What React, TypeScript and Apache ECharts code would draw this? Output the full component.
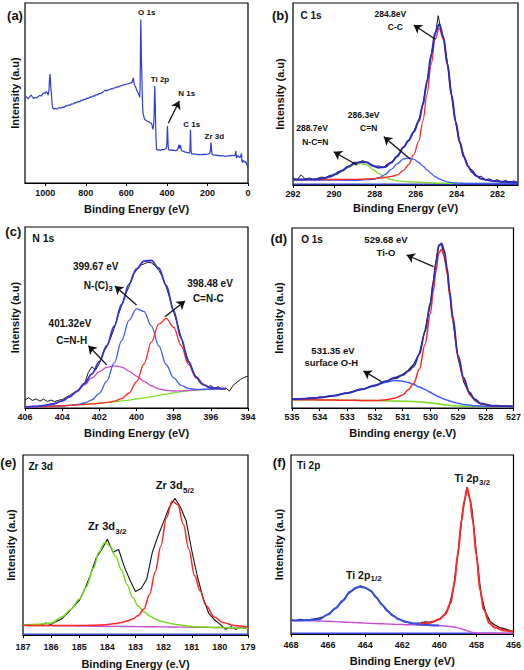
import React, { useEffect, useRef } from "react";
import * as echarts from "echarts";

const FONT = '"Liberation Sans", Arial, Helvetica, sans-serif';

// ---------- (a) survey spectrum: [binding energy, intensity %] ----------
const surveyPoints: [number, number][] = [
  [1100,47.4],[1092,47.9],[1085,46.8],[1078,47.6],[1070,48.9],[1064,47.9],[1057,46.9],[1050,47.5],[1043,47.2],[1035,48.1],
  [1027,48.6],[1020,48.3],[1013,49.4],[1006,50.1],[1000,49.8],[995,50.8],[990,50.2],[986,48.8],[982,51.0],[979,57.5],
  [977,60.5],[975,58.0],[973,53.5],[970,50.0],[967,45.0],[964,41.8],[958,41.0],[951,41.6],[944,40.9],[937,41.5],
  [930,41.9],[922,41.6],[915,42.3],[908,42.0],[900,42.9],[892,42.7],[885,43.4],[877,43.2],[870,44.0],[862,43.9],
  [855,44.6],[847,44.5],[840,45.3],[832,45.1],[825,45.9],[817,45.8],[810,46.5],[802,46.4],[795,47.1],[787,47.0],
  [780,47.8],[772,47.7],[765,48.4],[757,48.3],[750,49.0],[742,48.9],[735,49.7],[727,49.6],[720,50.3],[712,50.9],
  [705,51.6],[697,51.1],[690,51.8],[682,51.9],[675,52.4],[667,52.3],[660,52.9],[652,53.0],[645,53.4],[637,53.4],
  [630,54.0],[622,54.1],[615,54.5],[607,54.6],[600,55.0],[592,55.1],[585,55.4],[578,55.6],[572,55.9],[568,57.6],
  [565,58.3],[562,55.0],[558,54.0],[553,53.0],[548,51.2],[543,50.1],[538,49.0],[534,47.6],[532,55.0],[530,80.0],
  [529,90.8],[528,86.0],[526,70.0],[524,62.0],[522,52.0],[520,43.0],[518,38.9],[515,37.5],[512,36.2],[509,35.2],
  [505,35.0],[500,34.5],[495,34.3],[490,33.9],[485,33.8],[480,33.5],[476,33.1],[472,31.5],[469,29.8],[467,30.0],
  [465,33.0],[463,38.0],[461,50.0],[460,53.9],[459,50.0],[457,42.0],[456,35.0],[454,26.0],[452,19.5],[450,18.4],
  [445,18.6],[440,18.2],[435,18.4],[430,18.1],[425,18.7],[419,18.5],[413,18.7],[407,19.0],[402,19.4],[400,22.0],
  [398,30.0],[397,31.7],[396,28.0],[394,21.0],[392,18.6],[386,18.2],[380,18.4],[374,18.1],[368,18.3],[360,18.0],
  [353,18.1],[347,18.4],[343,20.5],[340,21.2],[338,19.2],[335,19.6],[333,21.0],[331,19.5],[328,18.2],[324,17.8],
  [318,17.6],[312,17.2],[305,17.1],[298,16.9],[290,16.6],[287,17.2],[285,24.0],[284,29.5],[283,27.0],[281,18.5],
  [279,16.3],[272,16.2],[265,16.0],[258,16.1],[250,15.8],[243,15.9],[236,15.7],[229,15.9],[222,15.8],[215,16.0],
  [208,15.8],[200,16.0],[193,16.2],[188,16.5],[185,19.0],[183,22.5],[181,20.5],[179,17.0],[176,15.8],[170,15.6],
  [163,15.4],[156,15.5],[149,15.2],[142,15.3],[135,15.1],[128,15.2],[121,15.0],[114,14.9],[107,14.8],[100,15.0],
  [93,15.2],[85,15.1],[78,15.4],[72,15.2],[66,15.1],[62,16.5],[60,17.8],[58,15.0],[56,13.8],[53,15.2],
  [49,15.0],[45,14.6],[41,14.2],[37,14.5],[34,16.0],[32,16.4],[30,12.0],[27,11.4],[24,12.6],[20,12.0],
  [16,11.5],[12,11.9],[9,11.2],[6,11.0],[4,9.6],[2,9.0],[0,8.3],
];
const surveyArrows = [[393, 33.2, 339, 45.6]];

// ---------- (b) C 1s ----------
const c1sEnergy = [292,291.5,291,290.5,290.2,289.9,289.6,289.3,289.0,288.7,288.4,288.1,287.8,287.5,287.2,286.9,286.6,286.35,286.1,285.85,285.65,285.45,285.25,285.05,284.85,284.65,284.45,284.25,284.05,283.85,283.65,283.45,283.25,283.05,282.8,282.5,282.2,281.8,281.4,281.0];
const c1sCC = [3.0,3.02,3.0,3.0,3.03,3.02,3.02,3.05,3.1,3.17,3.3,3.45,3.7,4.1,4.7,5.6,8.0,11.2,16.6,24.1,35.1,49.6,66.0,80.1,86.05,80.0,65.75,49.2,34.6,23.5,15.5,10.5,7.2,5.1,3.5,2.7,2.25,1.85,1.6,1.4];
const c1sCN = [2.8,2.8,2.75,2.7,2.7,2.65,2.6,2.55,2.55,2.63,2.9,3.1,4.0,5.7,8.6,11.7,14.37,14.9,14.17,12.36,10.4,8.3,6.33,4.6,3.33,2.38,1.74,1.32,1.11,1.0,0.9,0.9,0.9,0.9,0.9,0.9,0.9,0.9,0.9,0.9];
const c1sNCN = [2.8,2.82,2.9,3.44,4.3,5.67,7.54,9.57,11.17,11.75,11.07,8.6,6.2,4.3,3.0,2.3,1.95,1.75,1.6,1.5,1.4,1.3,1.2,1.1,1.05,1.0,0.95,0.9,0.9,0.9,0.9,0.9,0.9,0.9,0.9,0.9,0.9,0.9,0.9,0.9];
const c1sEnvelope = [3.0,3.04,3.15,3.74,4.63,6.04,7.96,10.07,11.82,12.65,12.47,10.55,9.5,9.9,12.3,15.8,20.72,24.45,29.17,34.96,44.1,56.6,71.13,83.6,88.33,81.38,66.54,49.62,34.81,23.6,15.5,10.5,7.2,5.1,3.5,2.7,2.25,1.85,1.6,1.4];
const c1sRaw: [number, number][] = [
  [292.0,3.8],[291.8,2.9],[291.6,5.6],[291.4,3.2],[291.2,3.9],[291.0,2.8],[290.8,3.6],[290.6,4.4],[290.4,3.9],[290.2,5.3],
  [290.0,5.4],[289.8,7.4],[289.6,7.6],[289.4,9.9],[289.2,10.6],[289.0,12.6],[288.8,12.2],[288.6,13.5],[288.4,12.3],[288.2,11.6],
  [288.0,10.2],[287.8,10.5],[287.6,9.4],[287.4,11.5],[287.2,12.2],[287.0,14.8],[286.8,17.5],[286.6,20.9],[286.4,23.5],[286.2,27.0],
  [286.0,31.9],[285.8,37.5],[285.6,47.5],[285.4,60.1],[285.2,74.2],[285.0,85.6],[284.9,93.0],[284.8,87.2],[284.6,78.5],[284.4,62.8],
  [284.2,45.0],[284.0,31.6],[283.8,21.5],[283.6,14.8],[283.4,9.3],[283.2,7.9],[283.0,4.6],[282.8,4.8],[282.6,2.9],[282.4,3.4],
  [282.2,2.2],[282.0,3.0],[281.8,1.5],[281.6,2.6],[281.4,1.2],[281.2,2.3],[281.0,1.1],
];
const c1sBottomLine: [number, number][] = [[281, 0.4], [292, 0.4]];
const c1sArrows = [[285.04, 80.1, 286.1, 87.9], [286.26, 14.1, 287.56, 26.5], [288.87, 11.0, 290.01, 18.3]];

// ---------- (c) N 1s ----------
const n1sEnergy = [406,405.5,405,404.5,404,403.6,403.2,402.8,402.4,402.0,401.6,401.2,400.8,400.4,400.0,399.6,399.2,398.8,398.4,398.0,397.6,397.2,396.8,396.4,396.0,395.6,395.2];
const n1sBackground = [0.6,0.7,0.8,1.0,1.2,1.4,1.7,2.0,2.3,2.6,3.0,3.4,3.9,4.4,5.0,5.6,6.3,7.0,7.7,8.4,9.0,9.5,9.9,10.2,10.4,10.6,10.7];
const n1sCNH = [0.65,0.86,1.27,2.2,3.9,6.1,9.1,12.8,16.6,20.1,22.5,23.3,22.6,20.4,17.6,14.7,12.3,10.6,9.7,9.4,9.47,9.7,9.98,10.23,10.4,10.6,10.7];
const n1sNC3 = [0.6,0.7,0.8,1.0,1.2,1.45,1.9,2.75,4.5,8.1,14.8,24.9,37.2,48.5,54.75,53.4,45.4,34.3,23.9,16.6,12.55,10.8,10.3,10.3,10.42,10.6,10.7];
const n1sCNC = [0.6,0.7,0.8,1.0,1.2,1.4,1.7,2.0,2.3,2.62,3.08,3.76,5.2,8.3,14.5,24.3,36.4,46.3,49.5,44.6,34.5,24.1,16.7,12.8,11.2,10.8,10.74];
const n1sEnvelope = [0.65,0.86,1.27,2.2,3.9,6.15,9.3,13.55,18.8,25.6,34.4,45.2,57.2,68.4,76.85,81.2,81.5,77.2,67.7,53.8,38.5,25.6,17.2,12.9,11.2,10.8,10.74];
const n1sRaw: [number, number][] = [
  [406,4.5],[405.8,5.6],[405.6,4.2],[405.4,5.0],[405.2,3.8],[405,4.9],[404.8,3.6],[404.6,4.4],[404.4,3.5],[404.2,4.3],
  [404,4.6],[403.8,5.8],[403.6,7.0],[403.4,8.3],[403.2,9.0],[403,11.5],[402.8,13.0],[402.6,19.5],[402.4,22.8],[402.2,21.0],
  [402,24.5],[401.8,30.5],[401.6,33.8],[401.4,38.5],[401.2,44.0],[401,51.0],[400.8,56.5],[400.6,62.8],[400.4,67.0],[400.2,73.5],
  [400,76.0],[399.8,78.8],[399.6,79.6],[399.4,80.5],[399.2,80.2],[399,78.6],[398.8,76.0],[398.6,72.5],[398.4,66.8],[398.2,60.5],
  [398,53.0],[397.8,46.5],[397.6,39.2],[397.4,31.8],[397.2,26.0],[397,20.5],[396.8,17.5],[396.6,14.0],[396.4,13.2],[396.2,11.5],
  [396,12.4],[395.8,10.9],[395.6,11.8],[395.4,10.2],[395.2,11.0],[395,9.4],[394.8,12.5],[394.6,14.2],[394.4,15.8],[394.2,16.9],
  [394,17.6],
];
const n1sArrows = [[400.0, 56.9, 401.16, 67.4], [398.47, 50.4, 397.39, 59.1], [401.6, 23.8, 402.59, 34.4]];

// ---------- (d) O 1s ----------
const o1sEnergy = [535,534.5,534,533.5,533,532.5,532,531.6,531.3,531.0,530.8,530.6,530.4,530.2,530.0,529.9,529.8,529.7,529.6,529.5,529.4,529.3,529.2,529.0,528.8,528.6,528.4,528.2,527.8,527.4,527.0];
const o1sTiO = [4.6,4.55,4.5,4.4,4.3,4.2,4.1,4.6,5.4,7.2,10.1,13.8,21.5,35.1,52.5,64.5,76.0,86.0,88.0,84.5,75.0,62.0,49.0,27.7,15.8,8.2,4.6,2.4,1.3,1.0,0.9];
const o1sBackground = [4.6,4.55,4.5,4.4,4.3,4.2,4.1,4.0,3.9,3.8,3.7,3.6,3.4,3.15,2.8,2.6,2.4,2.2,2.0,1.8,1.6,1.45,1.3,1.1,1.0,0.95,0.92,0.9,0.88,0.85,0.8];
const o1sOH = [4.9,5.2,5.8,6.8,8.3,10.3,12.5,14.3,15.3,14.9,14.1,13.0,11.7,10.3,8.7,7.8,7.0,6.2,5.5,4.9,4.4,3.9,3.4,2.6,2.0,1.6,1.3,1.1,0.9,0.85,0.8];
const o1sEnvelope = [4.9,5.2,5.8,6.8,8.3,10.3,12.5,14.9,16.8,18.3,20.5,23.2,29.8,42.25,58.4,69.7,80.6,90.0,91.5,87.6,77.8,64.45,51.1,29.2,16.8,8.85,4.98,2.6,1.32,1.0,0.9];
const o1sRaw: [number, number][] = [
  [535.0,4.6],[534.8,5.3],[534.6,4.9],[534.4,5.6],[534.2,5.4],[534.0,6.1],[533.8,6.0],[533.6,6.9],[533.4,7.0],[533.2,7.9],
  [533.0,8.5],[532.8,9.2],[532.6,10.4],[532.4,10.6],[532.2,11.9],[532.0,12.3],[531.8,13.9],[531.6,14.6],[531.4,16.2],[531.2,16.5],
  [531.0,18.6],[530.8,21.0],[530.6,24.4],[530.4,30.5],[530.2,43.0],[530.0,58.0],[529.8,81.5],[529.7,90.6],[529.6,91.0],[529.4,76.5],
  [529.2,49.8],[529.0,27.5],[528.8,14.6],[528.6,7.9],[528.4,4.2],[528.2,2.4],[528.0,1.9],[527.8,1.2],[527.6,1.5],[527.4,0.9],
  [527.2,1.2],[527.0,0.8],
];
const o1sArrows = [[529.89, 78.5, 530.86, 85], [531.76, 14.6, 532.42, 20.6]];

// ---------- (e) Zr 3d ----------
const zr3dEnergy = [187,186.5,186,185.6,185.3,185.0,184.75,184.5,184.3,184.1,183.9,183.7,183.5,183.3,183.1,182.9,182.7,182.5,182.3,182.1,181.9,181.7,181.5,181.3,181.1,180.9,180.7,180.5,180.2,179.9,179.5,179.0];
const zr3dBackground = [5.4,5.3,5.2,5.15,5.1,5.0,4.95,4.9,4.9,4.85,4.8,4.8,4.75,4.7,4.7,4.65,4.6,4.6,4.55,4.5,4.5,4.45,4.4,4.4,4.35,4.3,4.3,4.25,4.2,4.1,4.0,3.9];
const zr3d32 = [5.6,6.0,6.6,10.2,14.2,19.8,26.7,37.0,46.0,51.2,49.5,43.5,36.1,28.0,20.8,16.0,12.9,10.6,8.9,7.7,6.9,6.3,5.7,5.3,4.9,4.6,4.5,4.4,4.2,4.1,3.9,3.7];
const zr3d52 = [5.4,5.3,5.3,5.3,5.3,5.3,5.3,5.4,5.5,5.7,6.0,6.4,7.0,7.8,8.9,10.8,14.5,22.5,35.0,49.5,65.0,74.5,72.5,61.5,47.5,33.0,24.5,16.5,10.0,7.0,5.3,4.3];
const zr3dRaw: [number, number][] = [
  [187.0,5.6],[186.8,5.1],[186.6,5.8],[186.4,5.3],[186.2,6.7],[186.0,5.9],[185.8,7.6],[185.6,9.2],[185.4,12.4],[185.2,15.8],
  [185.0,19.2],[184.8,25.6],[184.6,33.5],[184.4,42.8],[184.2,47.5],[184.0,53.2],[183.8,46.0],[183.6,47.5],[183.4,38.0],[183.2,30.6],
  [183.0,24.2],[182.8,25.8],[182.6,31.0],[182.4,46.0],[182.2,55.0],[182.0,63.0],[181.8,71.0],[181.6,76.0],[181.4,71.0],[181.2,63.5],
  [181.0,47.0],[180.8,32.5],[180.6,20.8],[180.4,12.2],[180.2,8.6],[180.0,6.0],[179.8,3.2],[179.6,4.6],[179.4,2.9],
];
const zr3dBottomLine: [number, number][] = [[179, 0.4], [187, 0.4]];

// ---------- (f) Ti 2p ----------
const ti2pEnergy = [468,467.5,467,466.5,466,465.6,465.2,464.8,464.5,464.3,464.0,463.7,463.4,463.1,462.8,462.5,462.2,461.8,461.4,461.0,460.5,460.0,459.7,459.4,459.2,459.0,458.8,458.65,458.5,458.35,458.2,458.0,457.8,457.6,457.3,457.0,456.5,456.0];
const ti2pBackground = [7.6,7.5,7.4,7.3,7.1,6.9,6.7,6.5,6.35,6.25,6.1,5.95,5.8,5.7,5.6,5.45,5.35,5.2,5.1,5.0,4.85,4.7,4.5,4.2,3.9,3.4,2.9,2.4,1.9,1.3,0.8,0.55,0.45,0.4,0.4,0.4,0.35,0.3];
const ti2p12 = [7.6,7.6,7.8,8.2,10.9,14.4,18.7,23.7,25.8,26.4,25.9,24.2,20.4,16.4,12.9,10.2,8.3,6.7,5.8,5.3,4.95,4.75,null,null,null,null,null,null,null,null,null,null,null,null,null,null,null,null];
const ti2p32 = [null,null,null,null,null,null,null,null,null,null,null,null,null,null,null,null,null,null,null,5.8,6.3,8.2,10.8,17.0,27.5,45.0,63.5,74.5,81.4,75.5,63.5,44.0,24.5,13.5,6.0,3.6,2.0,1.3];
const ti2pRaw: [number, number][] = [
  [468.0,7.9],[467.75,7.5],[467.5,8.2],[467.25,7.7],[467.0,8.0],[466.75,8.4],[466.5,8.9],[466.25,9.6],[466.0,11.2],[465.75,13.0],
  [465.5,15.3],[465.25,18.0],[465.0,21.4],[464.75,24.0],[464.5,25.6],[464.25,26.9],[464.0,25.8],[463.75,24.5],[463.5,21.8],[463.25,18.4],
  [463.0,15.5],[462.75,12.6],[462.5,10.5],[462.25,8.6],[462.0,7.6],[461.75,6.8],[461.5,6.1],[461.25,6.0],[461.0,6.3],[460.75,6.8],
  [460.5,6.5],[460.25,7.4],[460.0,8.3],[459.75,10.5],[459.5,14.6],[459.25,24.8],[459.0,44.5],[458.75,68.0],[458.5,82.0],[458.25,70.5],
  [458.0,45.0],[457.75,22.0],[457.5,11.8],[457.25,6.9],[457.0,5.0],[456.75,3.6],[456.5,3.0],[456.25,2.2],[456.0,1.4],
];
const ti2pBottomLine: [number, number][] = [[456, 0.4], [468, 0.4]];

// ---------- colours ----------
const SURVEY = "#2f3fd4";
const RAW = "#151515";
const ENV = "#2b2bbf";
const CBLUE = "#3d5cff";
const RED = "#ff2626";
const GREEN = "#78dc1e";
const MAGENTA = "#c94bd0";

const zip = (xs: number[], ys: (number | null)[]) => xs.map((x, i) => [x, ys[i]]);

// panel layout (pixel boxes)
const panels = [
  { left: 25, top: 3, width: 223, height: 180, min: 0, max: 1100, interval: 200, name: "Binding Energy (eV)", nameGap: 20, labelMargin: 5, yGap: 5 },
  { left: 293, top: 3, width: 225, height: 182, min: 281, max: 292, interval: undefined, name: "Binding Energy (eV)", nameGap: 17, labelMargin: 4, yGap: 8 },
  { left: 25, top: 227, width: 223, height: 181, min: 394, max: 406, interval: 2, name: "Binding Energy (eV)", nameGap: 19, labelMargin: 4, yGap: 5 },
  { left: 292, top: 228, width: 222, height: 180, min: 527, max: 535, interval: 1, name: "Binding energy (e.V)", nameGap: 19, labelMargin: 4, yGap: 8 },
  { left: 23, top: 455, width: 225, height: 180, min: 179, max: 187, interval: 1, name: "Binding Energy (e.V)", nameGap: 23, labelMargin: 7, yGap: 7 },
  { left: 291, top: 455, width: 223, height: 179, min: 456, max: 468, interval: 2, name: "Binding Energy (eV)", nameGap: 21, labelMargin: 6, yGap: 7 },
];

function line(idx: number, data: any[], color: string, width: number, smooth: boolean, extra: any = {}) {
  return {
    type: "line",
    xAxisIndex: idx,
    yAxisIndex: idx,
    data,
    showSymbol: false,
    symbol: "none",
    smooth: smooth ? 0.35 : false,
    smoothMonotone: smooth ? "x" : undefined,
    connectNulls: false,
    silent: true,
    lineStyle: { color, width },
    itemStyle: { color },
    ...extra,
  };
}

function arrows(list: number[][]) {
  return {
    markLine: {
      silent: true,
      symbol: ["none", "arrow"],
      symbolSize: 8,
      lineStyle: { color: "#111", width: 1.3, type: "solid" },
      label: { show: false },
      emphasis: { disabled: true },
      data: list.map(([x1, y1, x2, y2]) => [{ coord: [x1, y1] }, { coord: [x2, y2] }]),
    },
  };
}

function txt(x: number, y: number, text: string, size: number, align: string = "center") {
  return {
    type: "text",
    x,
    y,
    silent: true,
    style: {
      text,
      fill: "#111",
      fontSize: size,
      fontWeight: "bold",
      fontFamily: FONT,
      align,
      textAlign: align,
      verticalAlign: "middle",
      textVerticalAlign: "middle",
    },
  };
}

export default function App() {
  const ref = useRef<HTMLDivElement>(null);

  useEffect(() => {
    const chart = echarts.init(ref.current!, null, { renderer: "svg" });

    const grid = panels.map((p) => ({
      left: p.left, top: p.top, width: p.width, height: p.height,
      show: true, borderColor: "#000", borderWidth: 1.2, backgroundColor: "transparent",
    }));

    const xAxis = panels.map((p, i) => ({
      gridIndex: i,
      type: "value",
      min: p.min,
      max: p.max,
      interval: p.interval,
      splitNumber: 5,
      inverse: true,
      name: p.name,
      nameLocation: "middle",
      nameGap: p.nameGap,
      nameTextStyle: { fontFamily: FONT, fontWeight: "bold", fontSize: 11, color: "#111" },
      axisLine: { show: true, onZero: false, lineStyle: { color: "#000", width: 1.2 } },
      axisTick: { show: true, inside: false, length: 3, lineStyle: { color: "#000", width: 1 } },
      axisLabel: {
        fontFamily: FONT, fontWeight: "bold", fontSize: 9, color: "#111", margin: p.labelMargin,
        showMinLabel: i === 1 ? false : true,
        showMaxLabel: i === 0 ? false : true,
        formatter: (v: number) => String(v),
      },
      splitLine: { show: false },
    }));

    const yAxis = panels.map((p, i) => ({
      gridIndex: i,
      type: "value",
      min: 0,
      max: 100,
      name: "Intensity (a.u)",
      nameLocation: "middle",
      nameGap: p.yGap,
      nameRotate: 90,
      nameTextStyle: { fontFamily: FONT, fontWeight: "bold", fontSize: 11, color: "#111" },
      axisLine: { show: false },
      axisTick: { show: false },
      axisLabel: { show: false },
      splitLine: { show: false },
    }));

    const series: any[] = [
      // (a)
      line(0, surveyPoints, SURVEY, 1.2, false, arrows(surveyArrows)),
      // (b)
      line(1, c1sBottomLine, "#2a3ab8", 1.6, false),
      line(1, c1sRaw, RAW, 1, false),
      line(1, zip(c1sEnergy, c1sNCN), GREEN, 1.3, true),
      line(1, zip(c1sEnergy, c1sCN), CBLUE, 1.3, true),
      line(1, zip(c1sEnergy, c1sCC), RED, 1.3, true),
      line(1, zip(c1sEnergy, c1sEnvelope), ENV, 2, true, arrows(c1sArrows)),
      // (c)
      line(2, n1sRaw, RAW, 1, false),
      line(2, zip(n1sEnergy, n1sBackground), GREEN, 1.2, true),
      line(2, zip(n1sEnergy, n1sCNH), MAGENTA, 1.3, true),
      line(2, zip(n1sEnergy, n1sNC3), CBLUE, 1.3, true),
      line(2, zip(n1sEnergy, n1sCNC), RED, 1.3, true),
      line(2, zip(n1sEnergy, n1sEnvelope), "#3434d8", 1.8, true, arrows(n1sArrows)),
      // (d)
      line(3, o1sRaw, RAW, 1.1, false),
      line(3, zip(o1sEnergy, o1sBackground), GREEN, 1.5, true),
      line(3, zip(o1sEnergy, o1sOH), CBLUE, 1.5, true),
      line(3, zip(o1sEnergy, o1sTiO), RED, 1.5, true),
      line(3, zip(o1sEnergy, o1sEnvelope), ENV, 1.8, true, arrows(o1sArrows)),
      // (e)
      line(4, zr3dBottomLine, "#3a4ad8", 1.6, false),
      line(4, zr3dRaw, RAW, 1.1, false),
      line(4, zip(zr3dEnergy, zr3dBackground), MAGENTA, 1.4, true),
      line(4, zip(zr3dEnergy, zr3d32), GREEN, 1.5, true),
      line(4, zip(zr3dEnergy, zr3d52), RED, 1.5, true),
      // (f)
      line(5, ti2pBottomLine, "#3a4ad8", 1.6, false),
      line(5, ti2pRaw, RAW, 1.2, false),
      line(5, zip(ti2pEnergy, ti2pBackground), MAGENTA, 1.4, true),
      line(5, zip(ti2pEnergy, ti2p12), "#3650e6", 2, true),
      line(5, zip(ti2pEnergy, ti2p32), RED, 2, true),
    ];

    const graphic = [
      // (a)
      txt(15, 15, "(a)", 13),
      txt(146.7, 12.7, "O 1s", 8),
      txt(160, 79.3, "Ti 2p", 8),
      txt(186.7, 93.3, "N 1s", 8),
      txt(191.7, 124.3, "C 1s", 8),
      txt(214.3, 136.7, "Zr 3d", 8),
      // (b)
      txt(280.3, 15, "(b)", 13),
      txt(311, 15, "C 1s", 10),
      txt(390.3, 14, "284.8eV", 8.5),
      txt(395.3, 27.3, "C-C", 8.5),
      txt(363.7, 115, "286.3eV", 8.5),
      txt(368.7, 128.3, "C=N", 8.5),
      txt(312, 128.3, "288.7eV", 8.5),
      txt(315.3, 141.7, "N-C=N", 8.5),
      // (c)
      txt(13.3, 231.7, "(c)", 13),
      txt(43.3, 238.3, "N 1s", 10.5),
      txt(95.7, 266.7, "399.67 eV", 10),
      txt(108.3, 285, "N-(C)", 10, "right"),
      txt(108.6, 288.5, "3", 7.5, "left"),
      txt(210, 283.3, "398.48 eV", 10),
      txt(208.3, 298.3, "C=N-C", 10),
      txt(70, 323.3, "401.32eV", 10),
      txt(71.7, 340, "C=N-H", 10),
      // (d)
      txt(278.7, 238.3, "(d)", 13),
      txt(312, 239, "O 1s", 10),
      txt(386, 239, "529.68 eV", 9.5),
      txt(386, 252.3, "Ti-O", 9.5),
      txt(333, 350, "531.35 eV", 9.5),
      txt(331.3, 362.7, "surface O-H", 9.5),
      // (e)
      txt(8.3, 462.3, "(e)", 13),
      txt(40.7, 466.7, "Zr 3d", 10),
      txt(182.7, 485, "Zr 3d", 11, "right"),
      txt(183, 490, "5/2", 8, "left"),
      txt(115, 525.7, "Zr 3d", 11, "right"),
      txt(115.3, 531, "3/2", 8, "left"),
      // (f)
      txt(279.3, 462.3, "(f)", 13),
      txt(308.7, 465.7, "Ti 2p", 10),
      txt(478.7, 478.3, "Ti 2p", 10.5, "right"),
      txt(479, 482, "3/2", 8, "left"),
      txt(370.3, 575, "Ti 2p", 10.5, "right"),
      txt(370.6, 578.5, "1/2", 8, "left"),
    ];

    chart.setOption({
      animation: false,
      backgroundColor: "#ffffff",
      textStyle: { fontFamily: FONT },
      grid,
      xAxis,
      yAxis,
      series,
      graphic,
    });

    return () => chart.dispose();
  }, []);

  return (
    <div
      ref={ref}
      style={{ position: "absolute", left: 0, top: 0, width: 524, height: 670 }}
    />
  );
}
